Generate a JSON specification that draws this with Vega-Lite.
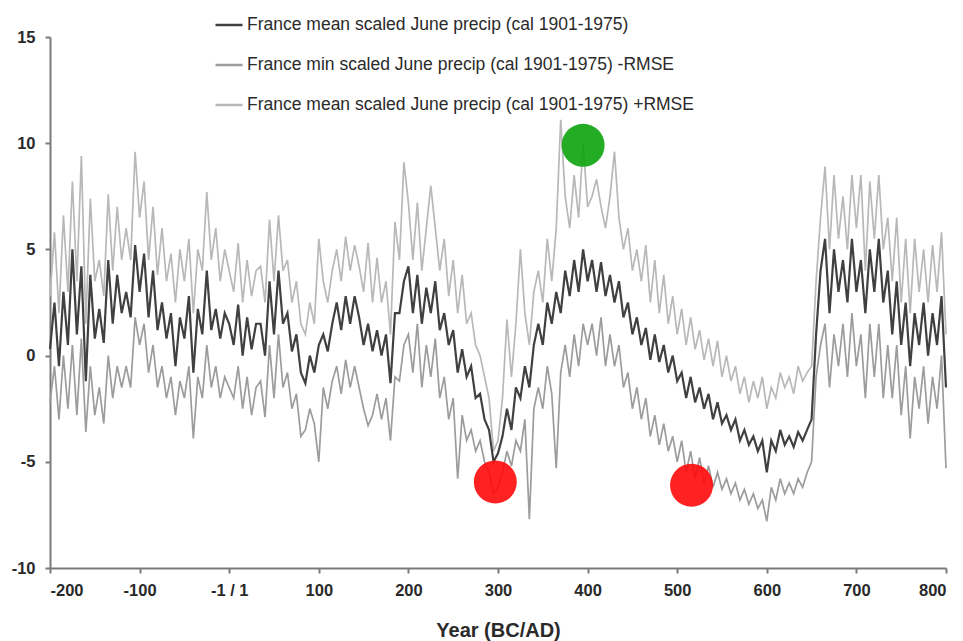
{
  "$schema": "https://vega.github.io/schema/vega-lite/v6.json",
  "width": 896,
  "height": 531,
  "autosize": "none",
  "padding": {"left": 50, "top": 37, "right": 17, "bottom": 73},
  "background": "white",
  "config": {
    "view": {"stroke": null},
    "font": "Liberation Sans",
    "axis": {
      "domainColor": "#7a7a7a", "domainWidth": 2,
      "tickColor": "#7a7a7a", "tickWidth": 2, "tickSize": 5,
      "labelFont": "Liberation Sans", "labelFontWeight": "bold", "labelFontSize": 16.5, "labelColor": "#2a2a2a",
      "titleFont": "Liberation Sans", "titleFontWeight": "bold", "titleFontSize": 20, "titleColor": "#2a2a2a",
      "grid": false
    },
    "legend": {
      "orient": "none", "legendX": 164, "legendY": -27,
      "symbolType": "stroke", "symbolSize": 729, "symbolStrokeWidth": 2.5,
      "labelFont": "Liberation Sans", "labelFontSize": 17.5, "labelColor": "#2a2a2a",
      "labelOffset": 3, "rowPadding": 16, "labelLimit": 600
    }
  },
  "data": {"values": [
    {"yr": -200, "m": 0.3, "hi": 2.8, "lo": -2.2},
    {"yr": -195, "m": 2.5, "hi": 5.8, "lo": -0.5},
    {"yr": -190, "m": -0.5, "hi": 2.0, "lo": -3.0},
    {"yr": -185, "m": 3.0, "hi": 6.6, "lo": 0.0},
    {"yr": -180, "m": 0.5, "hi": 3.0, "lo": -2.5},
    {"yr": -175, "m": 5.0, "hi": 8.2, "lo": 0.5},
    {"yr": -170, "m": 1.0, "hi": 3.5, "lo": -2.8},
    {"yr": -165, "m": 4.2, "hi": 9.4, "lo": 0.8},
    {"yr": -160, "m": -1.2, "hi": 1.5, "lo": -3.6},
    {"yr": -155, "m": 3.8, "hi": 7.4, "lo": -0.5},
    {"yr": -150, "m": 0.8, "hi": 3.5, "lo": -2.8},
    {"yr": -145, "m": 2.2, "hi": 4.5, "lo": -1.5},
    {"yr": -140, "m": 0.6, "hi": 2.8, "lo": -3.2},
    {"yr": -135, "m": 4.5, "hi": 7.6, "lo": 0.0},
    {"yr": -130, "m": 1.5, "hi": 4.0, "lo": -2.0},
    {"yr": -125, "m": 3.8, "hi": 7.0, "lo": -0.5},
    {"yr": -120, "m": 2.0, "hi": 4.5, "lo": -1.5},
    {"yr": -115, "m": 3.0, "hi": 6.0, "lo": -0.5},
    {"yr": -110, "m": 1.8, "hi": 4.5, "lo": -1.5},
    {"yr": -105, "m": 5.2, "hi": 9.6, "lo": 1.8},
    {"yr": -100, "m": 3.0, "hi": 6.5, "lo": 0.5},
    {"yr": -95, "m": 4.8, "hi": 8.2, "lo": 1.5},
    {"yr": -90, "m": 1.8, "hi": 4.5, "lo": -0.8},
    {"yr": -85, "m": 4.0, "hi": 7.0, "lo": 0.5},
    {"yr": -80, "m": 1.2, "hi": 3.8, "lo": -1.5},
    {"yr": -75, "m": 2.5, "hi": 6.0, "lo": -0.5},
    {"yr": -70, "m": 0.8, "hi": 3.5, "lo": -2.0},
    {"yr": -65, "m": 2.0, "hi": 4.8, "lo": -1.0},
    {"yr": -60, "m": -0.5, "hi": 2.5, "lo": -2.8},
    {"yr": -55, "m": 1.8, "hi": 5.0, "lo": -1.2},
    {"yr": -50, "m": 0.8, "hi": 3.5, "lo": -2.0},
    {"yr": -45, "m": 2.8, "hi": 5.5, "lo": -0.5},
    {"yr": -40, "m": -0.8, "hi": 2.0, "lo": -3.9},
    {"yr": -35, "m": 2.2, "hi": 5.0, "lo": -1.0},
    {"yr": -30, "m": 1.0, "hi": 4.0, "lo": -2.0},
    {"yr": -25, "m": 4.0, "hi": 7.7, "lo": 0.5},
    {"yr": -20, "m": 1.2, "hi": 4.5, "lo": -1.5},
    {"yr": -15, "m": 2.2, "hi": 6.0, "lo": -0.5},
    {"yr": -10, "m": 0.8, "hi": 3.5, "lo": -2.0},
    {"yr": -5, "m": 2.0, "hi": 5.0, "lo": -1.0},
    {"yr": 0, "m": 1.5, "hi": 4.0, "lo": -1.5},
    {"yr": 5, "m": 0.5, "hi": 3.0, "lo": -2.0},
    {"yr": 10, "m": 2.4, "hi": 5.3, "lo": -0.5},
    {"yr": 15, "m": 0.0, "hi": 2.5, "lo": -2.5},
    {"yr": 20, "m": 1.8, "hi": 4.5, "lo": -1.0},
    {"yr": 25, "m": 0.3, "hi": 2.8, "lo": -2.8},
    {"yr": 30, "m": 1.5, "hi": 4.0, "lo": -1.5},
    {"yr": 35, "m": 1.5, "hi": 4.2, "lo": -1.2},
    {"yr": 40, "m": 0.0, "hi": 2.5, "lo": -2.9},
    {"yr": 45, "m": 3.5, "hi": 6.4, "lo": 0.5},
    {"yr": 50, "m": 1.0, "hi": 3.5, "lo": -2.0},
    {"yr": 55, "m": 4.0, "hi": 6.6, "lo": 1.0},
    {"yr": 60, "m": 1.5, "hi": 4.0, "lo": -1.5},
    {"yr": 65, "m": 2.0, "hi": 4.5, "lo": -0.8},
    {"yr": 70, "m": 0.2, "hi": 2.5, "lo": -2.5},
    {"yr": 75, "m": 1.0, "hi": 3.5, "lo": -1.8},
    {"yr": 80, "m": -0.8, "hi": 1.5, "lo": -3.8},
    {"yr": 85, "m": -1.3, "hi": 1.0, "lo": -3.5},
    {"yr": 90, "m": 0.0, "hi": 2.5, "lo": -2.5},
    {"yr": 95, "m": -0.8, "hi": 1.5, "lo": -3.2},
    {"yr": 100, "m": 0.5, "hi": 5.5, "lo": -5.0},
    {"yr": 105, "m": 1.0, "hi": 3.5, "lo": -1.5},
    {"yr": 110, "m": 0.2, "hi": 2.5, "lo": -2.5},
    {"yr": 115, "m": 1.5, "hi": 4.0, "lo": -1.2},
    {"yr": 120, "m": 2.5, "hi": 5.0, "lo": -0.5},
    {"yr": 125, "m": 1.2, "hi": 3.5, "lo": -1.8},
    {"yr": 130, "m": 2.8, "hi": 5.6, "lo": -0.2},
    {"yr": 135, "m": 1.5, "hi": 4.0, "lo": -1.5},
    {"yr": 140, "m": 2.8, "hi": 5.2, "lo": -0.5},
    {"yr": 145, "m": 1.8, "hi": 4.2, "lo": -1.5},
    {"yr": 150, "m": 0.5, "hi": 3.0, "lo": -2.5},
    {"yr": 155, "m": 1.5, "hi": 5.3, "lo": -3.3},
    {"yr": 160, "m": 0.2, "hi": 2.5, "lo": -2.8},
    {"yr": 165, "m": 1.2, "hi": 4.6, "lo": -1.8},
    {"yr": 170, "m": 0.0, "hi": 2.5, "lo": -3.0},
    {"yr": 175, "m": 1.0, "hi": 3.5, "lo": -2.0},
    {"yr": 180, "m": -1.3, "hi": 1.0, "lo": -4.0},
    {"yr": 185, "m": 2.0, "hi": 6.3, "lo": -1.0},
    {"yr": 190, "m": 2.0, "hi": 4.5, "lo": -1.2},
    {"yr": 195, "m": 3.5, "hi": 9.1, "lo": 0.5},
    {"yr": 200, "m": 4.2, "hi": 7.2, "lo": 1.0},
    {"yr": 205, "m": 2.0, "hi": 4.5, "lo": -0.8},
    {"yr": 210, "m": 3.8, "hi": 7.2, "lo": 1.5},
    {"yr": 215, "m": 1.5, "hi": 4.0, "lo": -1.5},
    {"yr": 220, "m": 3.2, "hi": 6.0, "lo": 0.5},
    {"yr": 225, "m": 2.0, "hi": 8.0, "lo": -1.0},
    {"yr": 230, "m": 3.5, "hi": 6.0, "lo": 0.8},
    {"yr": 235, "m": 1.2, "hi": 4.0, "lo": -2.0},
    {"yr": 240, "m": 2.0, "hi": 5.5, "lo": -1.0},
    {"yr": 245, "m": 0.5, "hi": 2.8, "lo": -3.0},
    {"yr": 250, "m": 1.2, "hi": 4.5, "lo": -2.0},
    {"yr": 255, "m": -0.8, "hi": 2.0, "lo": -5.8},
    {"yr": 260, "m": 0.3, "hi": 3.8, "lo": -2.8},
    {"yr": 265, "m": -1.0, "hi": 1.5, "lo": -4.0},
    {"yr": 270, "m": -0.5, "hi": 2.0, "lo": -3.5},
    {"yr": 275, "m": -2.0, "hi": 0.5, "lo": -4.5},
    {"yr": 280, "m": -1.8, "hi": 0.0, "lo": -4.0},
    {"yr": 285, "m": -3.0, "hi": -1.0, "lo": -5.0},
    {"yr": 290, "m": -3.5, "hi": -2.0, "lo": -5.5},
    {"yr": 295, "m": -5.0, "hi": -4.5, "lo": -6.5},
    {"yr": 300, "m": -4.6, "hi": -4.0, "lo": -6.2},
    {"yr": 305, "m": -3.8, "hi": -2.0, "lo": -5.5},
    {"yr": 310, "m": -2.5, "hi": 1.7, "lo": -4.5},
    {"yr": 315, "m": -3.5, "hi": -1.0, "lo": -5.2},
    {"yr": 320, "m": -1.5, "hi": 1.5, "lo": -4.0},
    {"yr": 325, "m": -2.0, "hi": 5.0, "lo": -4.5},
    {"yr": 330, "m": -0.5, "hi": 2.0, "lo": -3.0},
    {"yr": 335, "m": -1.5, "hi": 0.5, "lo": -7.7},
    {"yr": 340, "m": 0.5, "hi": 3.0, "lo": -2.5},
    {"yr": 345, "m": 1.5, "hi": 4.0, "lo": -1.5},
    {"yr": 350, "m": 0.5, "hi": 2.5, "lo": -2.5},
    {"yr": 355, "m": 2.5, "hi": 5.5, "lo": -0.5},
    {"yr": 360, "m": 1.5, "hi": 3.5, "lo": -1.8},
    {"yr": 365, "m": 3.0, "hi": 6.0, "lo": -5.3},
    {"yr": 370, "m": 2.0, "hi": 11.1, "lo": -0.8},
    {"yr": 375, "m": 4.0, "hi": 7.5, "lo": 0.5},
    {"yr": 380, "m": 2.8, "hi": 6.0, "lo": -1.0},
    {"yr": 385, "m": 4.5, "hi": 8.5, "lo": 1.0},
    {"yr": 390, "m": 3.0, "hi": 6.5, "lo": -0.5},
    {"yr": 395, "m": 5.0, "hi": 10.0, "lo": 1.5},
    {"yr": 400, "m": 3.5, "hi": 7.0, "lo": 0.5},
    {"yr": 405, "m": 4.5, "hi": 7.5, "lo": 1.5},
    {"yr": 410, "m": 3.0, "hi": 8.3, "lo": 0.0},
    {"yr": 415, "m": 4.4, "hi": 7.0, "lo": 1.8},
    {"yr": 420, "m": 2.8, "hi": 6.0, "lo": -0.5},
    {"yr": 425, "m": 3.8, "hi": 7.5, "lo": 1.0},
    {"yr": 430, "m": 2.5, "hi": 9.6, "lo": -0.5},
    {"yr": 435, "m": 3.5, "hi": 6.5, "lo": 0.5},
    {"yr": 440, "m": 1.8, "hi": 5.0, "lo": -1.5},
    {"yr": 445, "m": 2.5, "hi": 6.0, "lo": -0.8},
    {"yr": 450, "m": 1.0, "hi": 4.0, "lo": -2.5},
    {"yr": 455, "m": 1.8, "hi": 5.0, "lo": -1.5},
    {"yr": 460, "m": 0.5, "hi": 3.5, "lo": -3.0},
    {"yr": 465, "m": 1.3, "hi": 5.2, "lo": -2.0},
    {"yr": 470, "m": -0.2, "hi": 2.5, "lo": -3.8},
    {"yr": 475, "m": 1.0, "hi": 4.5, "lo": -2.8},
    {"yr": 480, "m": -0.3, "hi": 2.0, "lo": -4.2},
    {"yr": 485, "m": 0.5, "hi": 3.8, "lo": -3.2},
    {"yr": 490, "m": -0.8, "hi": 1.5, "lo": -4.5},
    {"yr": 495, "m": 0.0, "hi": 2.8, "lo": -3.8},
    {"yr": 500, "m": -1.2, "hi": 1.0, "lo": -5.0},
    {"yr": 505, "m": -0.8, "hi": 2.2, "lo": -4.0},
    {"yr": 510, "m": -2.0, "hi": 0.5, "lo": -5.5},
    {"yr": 515, "m": -1.0, "hi": 1.8, "lo": -4.5},
    {"yr": 520, "m": -2.2, "hi": 0.3, "lo": -5.8},
    {"yr": 525, "m": -1.5, "hi": 1.2, "lo": -4.8},
    {"yr": 530, "m": -2.5, "hi": -0.2, "lo": -6.0},
    {"yr": 535, "m": -1.8, "hi": 0.8, "lo": -5.2},
    {"yr": 540, "m": -3.0, "hi": -0.5, "lo": -6.2},
    {"yr": 545, "m": -2.2, "hi": 0.7, "lo": -5.5},
    {"yr": 550, "m": -3.2, "hi": -1.0, "lo": -6.3},
    {"yr": 555, "m": -2.8, "hi": 0.0, "lo": -5.8},
    {"yr": 560, "m": -3.5, "hi": -1.2, "lo": -6.5},
    {"yr": 565, "m": -3.0, "hi": -0.5, "lo": -6.0},
    {"yr": 570, "m": -4.0, "hi": -1.8, "lo": -6.8},
    {"yr": 575, "m": -3.5, "hi": -1.0, "lo": -6.3},
    {"yr": 580, "m": -4.2, "hi": -2.2, "lo": -7.0},
    {"yr": 585, "m": -3.8, "hi": -1.2, "lo": -6.5},
    {"yr": 590, "m": -4.5, "hi": -2.0, "lo": -7.2},
    {"yr": 595, "m": -4.0, "hi": -1.0, "lo": -6.8},
    {"yr": 600, "m": -5.5, "hi": -2.5, "lo": -7.8},
    {"yr": 605, "m": -4.0, "hi": -1.5, "lo": -6.2},
    {"yr": 610, "m": -4.5, "hi": -2.0, "lo": -6.8},
    {"yr": 615, "m": -3.5, "hi": -0.8, "lo": -5.8},
    {"yr": 620, "m": -4.2, "hi": -1.5, "lo": -6.5},
    {"yr": 625, "m": -3.8, "hi": -1.0, "lo": -6.0},
    {"yr": 630, "m": -4.3, "hi": -1.8, "lo": -6.5},
    {"yr": 635, "m": -3.6, "hi": -0.5, "lo": -5.8},
    {"yr": 640, "m": -4.0, "hi": -1.2, "lo": -6.2},
    {"yr": 645, "m": -3.5, "hi": -0.8, "lo": -5.5},
    {"yr": 650, "m": -3.0, "hi": -0.5, "lo": -5.0},
    {"yr": 655, "m": 1.0, "hi": 3.5, "lo": -1.0},
    {"yr": 660, "m": 4.0, "hi": 6.5, "lo": 0.5},
    {"yr": 665, "m": 5.5, "hi": 8.9, "lo": 1.5},
    {"yr": 670, "m": 2.0, "hi": 5.0, "lo": -1.5},
    {"yr": 675, "m": 5.0, "hi": 8.5, "lo": 1.0},
    {"yr": 680, "m": 3.0, "hi": 5.5, "lo": -0.5},
    {"yr": 685, "m": 4.5, "hi": 7.5, "lo": 1.5},
    {"yr": 690, "m": 2.5, "hi": 5.0, "lo": -1.0},
    {"yr": 695, "m": 5.5, "hi": 8.5, "lo": 2.0},
    {"yr": 700, "m": 3.0, "hi": 6.0, "lo": -0.5},
    {"yr": 705, "m": 4.5, "hi": 8.5, "lo": 1.0},
    {"yr": 710, "m": 2.0, "hi": 4.0, "lo": -2.0},
    {"yr": 715, "m": 5.0, "hi": 8.2, "lo": 1.5},
    {"yr": 720, "m": 3.0, "hi": 5.5, "lo": -1.0},
    {"yr": 725, "m": 5.5, "hi": 8.5, "lo": 1.5},
    {"yr": 730, "m": 2.5, "hi": 5.0, "lo": -2.0},
    {"yr": 735, "m": 4.0, "hi": 6.5, "lo": 0.5},
    {"yr": 740, "m": 1.0, "hi": 3.5, "lo": -2.0},
    {"yr": 745, "m": 3.5, "hi": 6.5, "lo": 0.5},
    {"yr": 750, "m": 0.5, "hi": 2.5, "lo": -2.8},
    {"yr": 755, "m": 2.5, "hi": 5.5, "lo": -0.5},
    {"yr": 760, "m": -0.5, "hi": 2.0, "lo": -3.9},
    {"yr": 765, "m": 2.0, "hi": 5.5, "lo": -1.0},
    {"yr": 770, "m": 0.5, "hi": 3.0, "lo": -2.5},
    {"yr": 775, "m": 2.5, "hi": 5.0, "lo": -0.5},
    {"yr": 780, "m": 0.0, "hi": 2.5, "lo": -3.2},
    {"yr": 785, "m": 2.0, "hi": 5.2, "lo": -1.0},
    {"yr": 790, "m": 0.5, "hi": 3.0, "lo": -2.5},
    {"yr": 795, "m": 2.8, "hi": 5.8, "lo": 0.0},
    {"yr": 800, "m": -1.5, "hi": 1.0, "lo": -5.3}
  ]},
  "encoding": {
    "x": {
      "field": "yr", "type": "quantitative",
      "scale": {"domain": [-200, 800], "nice": false, "zero": false},
      "axis": {
        "title": "Year (BC/AD)",
        "values": [-200, -100, 0, 100, 200, 300, 400, 500, 600, 700, 800],
        "labelExpr": "datum.value == 0 ? '-1 / 1' : '' + datum.value",
        "labelPadding": 9, "titlePadding": 22
      }
    },
    "y": {
      "field": "value", "type": "quantitative",
      "scale": {"domain": [-10, 15], "nice": false, "zero": false},
      "axis": {
        "title": null,
        "values": [-10, -5, 0, 5, 10, 15],
        "labelExpr": "'' + datum.value",
        "labelPadding": 10
      }
    }
  },
  "layer": [
    {
      "transform": [
        {"fold": ["lo", "hi", "m"], "as": ["series", "value"]},
        {"filter": "datum.series != 'm'"}
      ],
      "mark": {"type": "line", "strokeWidth": 1.7, "interpolate": "linear"},
      "encoding": {
        "color": {
          "field": "series", "type": "nominal",
          "scale": {"domain": ["m", "lo", "hi"], "range": ["#404040", "#9c9c9c", "#b8b8b8"]},
          "legend": {
            "title": null,
            "labelExpr": "datum.value == 'm' ? 'France mean scaled June precip (cal 1901-1975)' : datum.value == 'lo' ? 'France min scaled June precip (cal 1901-1975) -RMSE' : 'France mean scaled June precip (cal 1901-1975) +RMSE'"
          }
        }
      }
    },
    {
      "transform": [
        {"fold": ["lo", "hi", "m"], "as": ["series", "value"]},
        {"filter": "datum.series == 'm'"}
      ],
      "mark": {"type": "line", "strokeWidth": 2.2, "interpolate": "linear"},
      "encoding": {
        "color": {
          "field": "series", "type": "nominal",
          "scale": {"domain": ["m", "lo", "hi"], "range": ["#404040", "#9c9c9c", "#b8b8b8"]}
        }
      }
    },
    {
      "data": {"values": [
        {"yr": 395, "value": 9.9, "kind": "high"},
        {"yr": 297, "value": -5.95, "kind": "low"},
        {"yr": 516, "value": -6.1, "kind": "low"}
      ]},
      "mark": {"type": "point", "shape": "circle", "filled": true, "size": 1850, "opacity": 0.9},
      "encoding": {
        "fill": {
          "field": "kind", "type": "nominal",
          "scale": {"domain": ["high", "low"], "range": ["#0ca30c", "#ff0a0a"]},
          "legend": null
        }
      }
    }
  ]
}
